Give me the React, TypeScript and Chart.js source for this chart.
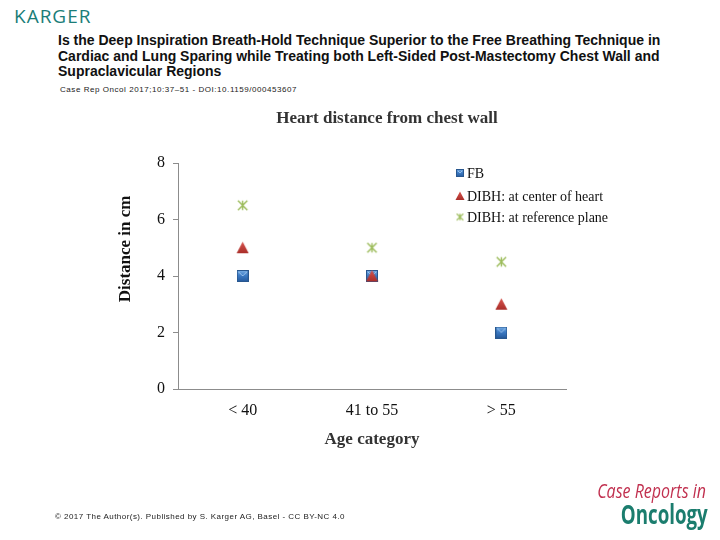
import React, { useEffect, useRef } from "react";
import { Chart, registerables } from "chart.js";

Chart.register(...registerables);

const categories = ["< 40", "41 to 55", "> 55"];
const fbValues = [4, 4, 2];
const dibhCenterValues = [5, 4, 3];
const dibhRefValues = [6.5, 5, 4.5];
const seriesNames = ["FB", "DIBH: at center of heart", "DIBH: at reference plane"];
const yTicks = [0, 2, 4, 6, 8];

function makeSquare(size: number): HTMLCanvasElement {
  const c = document.createElement("canvas");
  c.width = size;
  c.height = size;
  const ctx = c.getContext("2d")!;
  const g = ctx.createLinearGradient(0, 0, 0, size);
  g.addColorStop(0, "#7fb2e6");
  g.addColorStop(0.45, "#3d7cc6");
  g.addColorStop(1, "#25589a");
  ctx.fillStyle = g;
  ctx.fillRect(0, 0, size, size);
  ctx.strokeStyle = "#28578f";
  ctx.lineWidth = 1;
  ctx.strokeRect(0.5, 0.5, size - 1, size - 1);
  ctx.strokeStyle = "rgba(170,205,240,0.8)";
  ctx.beginPath();
  ctx.moveTo(2, 2);
  ctx.lineTo(size / 2, size / 2);
  ctx.lineTo(size - 2, 2);
  ctx.stroke();
  return c;
}

function makeAsterisk(size: number, lw: number): HTMLCanvasElement {
  const c = document.createElement("canvas");
  c.width = size;
  c.height = size;
  const ctx = c.getContext("2d")!;
  ctx.strokeStyle = "#9bbb59";
  ctx.lineWidth = lw;
  const m = size / 2;
  const d = size * 0.36;
  ctx.beginPath();
  ctx.moveTo(m - d, m - d);
  ctx.lineTo(m + d, m + d);
  ctx.moveTo(m + d, m - d);
  ctx.lineTo(m - d, m + d);
  ctx.moveTo(m, m - d);
  ctx.lineTo(m, m + d);
  ctx.stroke();
  return c;
}

function makeTriangle(size: number): HTMLCanvasElement {
  const c = document.createElement("canvas");
  c.width = size;
  c.height = size;
  const ctx = c.getContext("2d")!;
  const g = ctx.createLinearGradient(0, 0, 0, size);
  g.addColorStop(0, "#d9564f");
  g.addColorStop(1, "#a52a26");
  ctx.fillStyle = g;
  ctx.beginPath();
  ctx.moveTo(size / 2, 0.5);
  ctx.lineTo(size - 0.5, size - 1);
  ctx.lineTo(0.5, size - 1);
  ctx.closePath();
  ctx.fill();
  return c;
}

export default function App() {
  const canvasRef = useRef<HTMLCanvasElement | null>(null);

  useEffect(() => {
    document.body.style.margin = "0";
    const canvas = canvasRef.current;
    if (!canvas) return;

    const sq = makeSquare(12);
    const tri = makeTriangle(13);
    const ast = makeAsterisk(13, 1.4);
    const sqS = makeSquare(8);
    const triS = makeTriangle(10);
    const astS = makeAsterisk(9, 1.1);

    const overlay = {
      id: "overlay",
      afterDraw(chart: any) {
        const { ctx, chartArea } = chart;
        ctx.save();
        ctx.fillStyle = "#333333";
        ctx.font = "bold 17px 'Liberation Serif', serif";
        ctx.textAlign = "center";
        ctx.textBaseline = "middle";
        ctx.fillText("Heart distance from chest wall", 387, 119);
        ctx.save();
        ctx.translate(126, chartArea.top + (chartArea.bottom - chartArea.top) * 0.38);
        ctx.rotate(-Math.PI / 2);
        ctx.fillStyle = "#111111";
        ctx.fillText("Distance in cm", 0, 0);
        ctx.restore();
        const icons = [sqS, triS, astS];
        const rows = [173, 196, 217];
        ctx.font = "14px 'Liberation Serif', serif";
        ctx.textAlign = "left";
        ctx.fillStyle = "#111111";
        seriesNames.forEach((name, i) => {
          const ic = icons[i];
          ctx.drawImage(ic, 460 - ic.width / 2, rows[i] - ic.height / 2);
          ctx.fillText(name, 467, rows[i] + 1);
        });
        ctx.restore();
      },
    };

    const chart = new Chart(canvas, {
      type: "scatter",
      data: {
        labels: categories,
        datasets: [
          {
            label: seriesNames[0],
            data: fbValues,
            pointStyle: sq as any,
            showLine: false,
            order: 2,
          },
          {
            label: seriesNames[1],
            data: dibhCenterValues,
            pointStyle: tri as any,
            showLine: false,
            order: 1,
          },
          {
            label: seriesNames[2],
            data: dibhRefValues,
            pointStyle: ast as any,
            showLine: false,
            order: 0,
          },
        ] as any,
      },
      options: {
        animation: false,
        responsive: false,
        layout: { padding: { left: 112, right: 154, top: 163, bottom: 86 } },
        plugins: {
          legend: { display: false },
          title: { display: false },
          tooltip: { enabled: false },
        },
        scales: {
          x: {
            type: "category",
            labels: categories,
            offset: true,
            grid: { display: false, drawTicks: false },
            border: { display: true, color: "#8c8c8c", width: 1 },
            ticks: {
              padding: 12,
              color: "#111111",
              font: { family: "'Liberation Serif', serif", size: 16 },
            },
            title: {
              display: true,
              text: "Age category",
              color: "#333333",
              font: { family: "'Liberation Serif', serif", size: 17, weight: "bold" },
            },
            afterFit: (scale: any) => {
              scale.height = 65;
            },
          },
          y: {
            type: "linear",
            min: 0,
            max: 8,
            afterBuildTicks: (scale: any) => {
              scale.ticks = yTicks.map((v) => ({ value: v }));
            },
            grid: {
              display: true,
              drawOnChartArea: false,
              drawTicks: true,
              tickLength: 5,
              color: "#8c8c8c",
            },
            border: { display: true, color: "#8c8c8c", width: 1 },
            ticks: {
              padding: 8,
              color: "#111111",
              font: { family: "'Liberation Serif', serif", size: 16 },
            },
            title: { display: false },
            afterFit: (scale: any) => {
              scale.width = 66;
            },
          },
        },
      } as any,
      plugins: [overlay],
    });

    return () => chart.destroy();
  }, []);

  return (
    <div
      style={{
        position: "absolute",
        left: 0,
        top: 0,
        width: 720,
        height: 540,
        background: "#ffffff",
        overflow: "hidden",
        fontFamily: "'Liberation Sans', Arial, sans-serif",
      }}
    >
      <div
        style={{
          position: "absolute",
          left: 14,
          top: 3,
          fontFamily: "'Open Sans', sans-serif",
          fontSize: 19,
          letterSpacing: 1,
          color: "#1b7d78",
          lineHeight: "26px",
        }}
      >
        KARGER
      </div>
      <div
        style={{
          position: "absolute",
          left: 58,
          top: 33,
          fontSize: 14,
          fontWeight: "bold",
          lineHeight: "15.5px",
          color: "#111111",
          whiteSpace: "nowrap",
        }}
      >
        Is the Deep Inspiration Breath-Hold Technique Superior to the Free Breathing Technique in
        <br />
        Cardiac and Lung Sparing while Treating both Left-Sided Post-Mastectomy Chest Wall and
        <br />
        Supraclavicular Regions
      </div>
      <div
        style={{
          position: "absolute",
          left: 60,
          top: 84,
          fontSize: 8,
          letterSpacing: 0.55,
          lineHeight: "12px",
          color: "#222222",
          whiteSpace: "nowrap",
        }}
      >
        Case Rep Oncol 2017;10:37–51 - DOI:10.1159/000453607
      </div>
      <canvas
        ref={canvasRef}
        width={720}
        height={540}
        style={{ position: "absolute", left: 0, top: 0, width: 720, height: 540 }}
      />
      <div
        style={{
          position: "absolute",
          left: 55,
          top: 511,
          fontSize: 8,
          letterSpacing: 0.45,
          lineHeight: "12px",
          color: "#222222",
          whiteSpace: "nowrap",
        }}
      >
        © 2017 The Author(s). Published by S. Karger AG, Basel - CC BY-NC 4.0
      </div>
      <div
        style={{
          position: "absolute",
          right: 14,
          top: 479,
          fontFamily: "'Open Sans', sans-serif",
          fontSize: 20,
          fontStyle: "italic",
          lineHeight: "24px",
          color: "#c1304f",
          whiteSpace: "nowrap",
          transform: "scaleX(0.8)",
          transformOrigin: "right center",
        }}
      >
        Case Reports in
      </div>
      <div
        style={{
          position: "absolute",
          right: 12,
          top: 498,
          fontFamily: "'Open Sans', sans-serif",
          fontSize: 26,
          fontWeight: "bold",
          lineHeight: "32px",
          color: "#1b7d6e",
          whiteSpace: "nowrap",
          transform: "scaleX(0.72)",
          transformOrigin: "right center",
        }}
      >
        Oncology
      </div>
    </div>
  );
}
